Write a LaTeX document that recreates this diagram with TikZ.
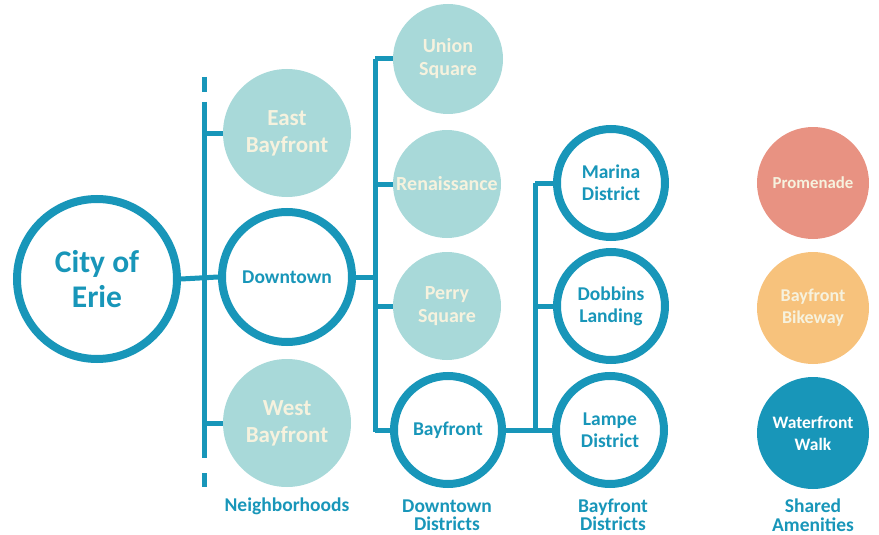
\documentclass[tikz,border=0pt]{standalone}
\usepackage{fontspec}
\setmainfont{Carlito}
\definecolor{dteal}{RGB}{24,150,185}
\definecolor{lteal}{RGB}{168,217,217}
\definecolor{cream}{RGB}{246,242,222}
\definecolor{salmon}{RGB}{232,146,130}
\definecolor{peach}{RGB}{247,194,124}
\begin{document}
\begin{tikzpicture}[x=1pt,y=-1pt,
  base/.style={circle,inner sep=0pt,align=center,font=\bfseries},
  ring/.style={base,draw=dteal,line width=8pt,fill=white,text=dteal},
  soft/.style={base,fill=lteal,text=cream},
  link/.style={draw=dteal,line width=5pt},
  caption/.style={align=center,text=dteal,inner sep=0pt,font=\bfseries\fontsize{19.5}{18.5}\selectfont}]
\useasboundingbox (0,0) rectangle (879,535);
% nodes
\node[ring,minimum size=160pt,font=\bfseries\fontsize{31.5}{35}\selectfont] (city) at (97,279) {City of\\Erie};
\node[soft,minimum size=128pt,font=\bfseries\fontsize{23}{27}\selectfont] (east) at (287,133) {East\\Bayfront};
\node[ring,minimum size=130pt,font=\bfseries\fontsize{19.5}{22}\selectfont] (down) at (287,277) {Downtown};
\node[soft,minimum size=128pt,font=\bfseries\fontsize{23}{27}\selectfont] (west) at (287,423) {West\\Bayfront};
\node[soft,minimum size=110pt,font=\bfseries\fontsize{20}{23}\selectfont] (union) at (448,59) {Union\\Square};
\node[soft,minimum size=108pt,font=\bfseries\fontsize{20}{23}\selectfont] (ren) at (447,184) {Renaissance};
\node[soft,minimum size=108pt,font=\bfseries\fontsize{20}{23}\selectfont] (perry) at (447,306) {Perry\\Square};
\node[ring,minimum size=108pt,font=\bfseries\fontsize{19.5}{22}\selectfont] (bay) at (448,430) {Bayfront};
\node[ring,minimum size=108pt,font=\bfseries\fontsize{19.5}{22}\selectfont] (marina) at (611,183) {Marina\\District};
\node[ring,minimum size=108pt,font=\bfseries\fontsize{19.5}{22}\selectfont] (dobbins) at (611,306) {Dobbins\\Landing};
\node[ring,minimum size=108pt,font=\bfseries\fontsize{19.5}{22}\selectfont] (lampe) at (610,430) {Lampe\\District};
\node[base,fill=salmon,text=cream,minimum size=112pt,font=\bfseries\fontsize{16.8}{22}\selectfont] (prom) at (813,183) {Promenade};
\node[base,fill=peach,text=cream,minimum size=112pt,font=\bfseries\fontsize{18}{22}\selectfont] (bike) at (813,308) {Bayfront\\Bikeway};
\node[base,fill=dteal,text=white,minimum size=112pt,font=\bfseries\fontsize{17.5}{22}\selectfont] (walk) at (813,433) {Waterfront\\Walk};
% captions
\node[caption] (capn) at (287,506) {Neighborhoods};
\node[caption] (capd) at (447,515) {Downtown\\Districts};
\node[caption] (capb) at (613,515) {Bayfront\\Districts};
\node[caption] (caps) at (813,515) {Shared\\Amenities};
% trunk coordinates
\coordinate (t1a) at (204,77);
\coordinate (t1b) at (204,92);
\coordinate (t1c) at (204,102);
\coordinate (t1d) at (204,458);
\coordinate (t1e) at (204,473);
\coordinate (t1f) at (204,487);
\coordinate (t2a) at (375,59);
\coordinate (t2b) at (375,432);
\coordinate (t3a) at (535,183);
\coordinate (t3b) at (535,432);
% connectors
\path[link] (t1a) -- (t1b);
\path[link] (t1c) -- (t1d);
\path[link] (t1e) -- (t1f);
\path[link] (city.east) -- (down.west);
\path[link] (t1c |- east.west) -- (east.west);
\path[link] (t1c |- west.west) -- (west.west);
\path[link] (t2a) -- (t2b);
\path[link] (down.east) -- (t2a |- down.east);
\path[link] (t2a |- union.west) -- (union.west);
\path[link] (t2a |- ren.west) -- (ren.west);
\path[link] (t2a |- perry.west) -- (perry.west);
\path[link] (t2a |- bay.west) -- (bay.west);
\path[link] (t3a) -- (t3b);
\path[link] (bay.east) -- (t3a |- bay.east);
\path[link] (t3a |- marina.west) -- (marina.west);
\path[link] (t3a |- dobbins.west) -- (dobbins.west);
\path[link] (t3a |- lampe.west) -- (lampe.west);
\end{tikzpicture}
\end{document}
